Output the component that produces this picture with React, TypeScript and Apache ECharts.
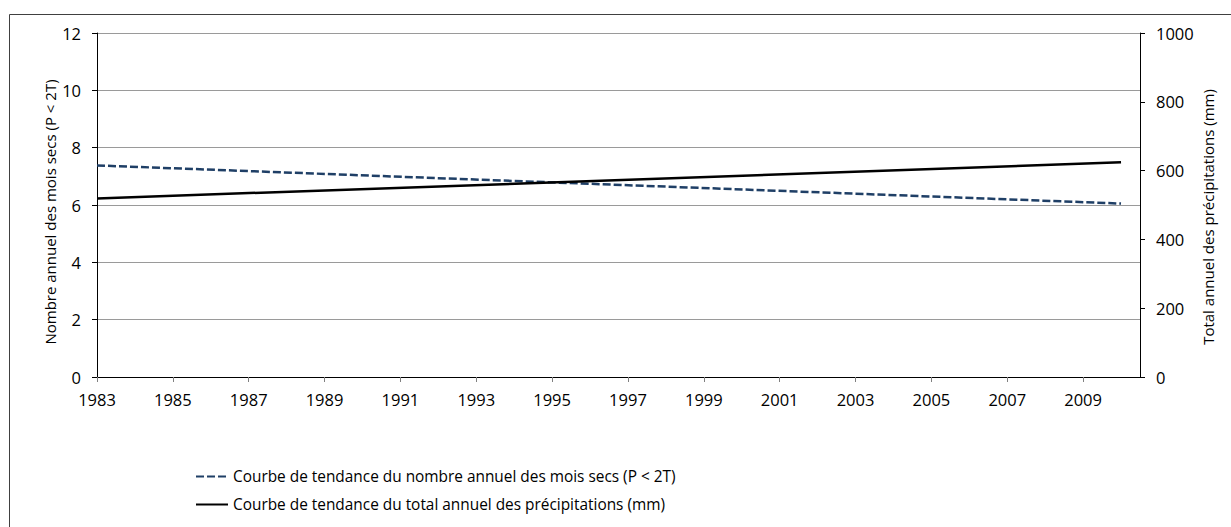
import React, { useEffect, useRef } from "react";
import * as echarts from "echarts";

// Trend lines: endpoints (years 1983 and 2010)
const years = [1983, 2010];
const dryMonths = [7.38, 6.05];
const rainfall = [519, 624];
const firstYear = 1983;
const xMaxOffset = 27.5; // axis runs to mid-2010
const leftTicks = { min: 0, max: 12, interval: 2 };
const rightTicks = { min: 0, max: 1000, interval: 200 };
const nameDry = "Courbe de tendance du nombre annuel des mois secs (P < 2T)";
const nameRain = "Courbe de tendance du total annuel des précipitations (mm)";
const leftAxisName = "Nombre annuel des mois secs (P < 2T)";
const rightAxisName = "Total annuel des précipitations (mm)";

const FONT = "Open Sans";
const FS_TICK = 16.5;
const FS_TEXT = 15.4;
const FS_NAME = 15;

export default function App() {
  const ref = useRef<HTMLDivElement>(null);
  useEffect(() => {
    if (!ref.current) return;
    const chart = echarts.init(ref.current, undefined, { renderer: "svg" });
    chart.setOption({
      animation: false,
      backgroundColor: "#ffffff",
      textStyle: { fontFamily: FONT },
      grid: { left: 97, right: 91, top: 33, bottom: 150, containLabel: false },
      graphic: [
        {
          type: "rect",
          shape: { x: 9.5, y: 14.5, width: 1260, height: 560 },
          style: { fill: "none", stroke: "#404040", lineWidth: 1 },
          silent: true,
          z: -1,
        },
      ],
      legend: {
        orient: "vertical",
        left: 190,
        top: 464,
        itemWidth: 32,
        itemHeight: 14,
        itemGap: 13,
        itemStyle: { opacity: 0 },
        textStyle: { fontFamily: FONT, fontSize: FS_TEXT, color: "#000" },
        data: [nameDry, nameRain],
      },
      xAxis: {
        type: "value",
        min: 0,
        max: xMaxOffset,
        interval: 2,
        axisLine: { lineStyle: { color: "#000", width: 1 } },
        axisTick: { show: true, length: 5, lineStyle: { color: "#808080" } },
        splitLine: { show: false },
        axisLabel: {
          margin: 14,
          fontFamily: FONT,
          fontSize: FS_TICK,
          color: "#000",
          showMaxLabel: false,
          formatter: (v: number) =>
            Number.isInteger(v) && v % 2 === 0 && v <= 26 ? String(firstYear + v) : "",
        },
      },
      yAxis: [
        {
          type: "value",
          ...leftTicks,
          position: "left",
          name: leftAxisName,
          nameLocation: "middle",
          nameGap: 40,
          nameMoveOverlap: false,
          nameTextStyle: { fontFamily: FONT, fontSize: FS_NAME, color: "#000", padding: [0, 14, 0, 0] },
          axisLine: { show: true, lineStyle: { color: "#000", width: 1 } },
          axisTick: { show: true, length: 5, lineStyle: { color: "#000" } },
          splitLine: { show: true, lineStyle: { color: "#9a9a9a", width: 1 } },
          axisLabel: { margin: 16, fontFamily: FONT, fontSize: FS_TICK, color: "#000", formatter: (v: number) => String(v) },
        },
        {
          type: "value",
          ...rightTicks,
          position: "right",
          name: rightAxisName,
          nameLocation: "middle",
          nameGap: 60,
          nameMoveOverlap: false,
          nameTextStyle: { fontFamily: FONT, fontSize: FS_NAME, color: "#000", padding: [0, 24, 0, 0] },
          axisLine: { show: true, lineStyle: { color: "#000", width: 1 } },
          axisTick: { show: true, length: 5, lineStyle: { color: "#000" } },
          splitLine: { show: false },
          axisLabel: { margin: 16, fontFamily: FONT, fontSize: FS_TICK, color: "#000", formatter: (v: number) => String(v) },
        },
      ],
      series: [
        {
          name: nameDry,
          type: "line",
          yAxisIndex: 0,
          symbol: "none",
          data: years.map((y, i) => [y - firstYear, dryMonths[i]]),
          lineStyle: { color: "#1F3F66", width: 2.5, type: [8, 3] },
          itemStyle: { color: "#1F3F66" },
        },
        {
          name: nameRain,
          type: "line",
          yAxisIndex: 1,
          symbol: "none",
          data: years.map((y, i) => [y - firstYear, rainfall[i]]),
          lineStyle: { color: "#000000", width: 2.5 },
          itemStyle: { color: "#000000" },
        },
      ],
    });
    return () => chart.dispose();
  }, []);
  return (
    <div
      ref={ref}
      style={{ position: "fixed", left: 0, top: 0, width: 1231, height: 527 }}
    />
  );
}
